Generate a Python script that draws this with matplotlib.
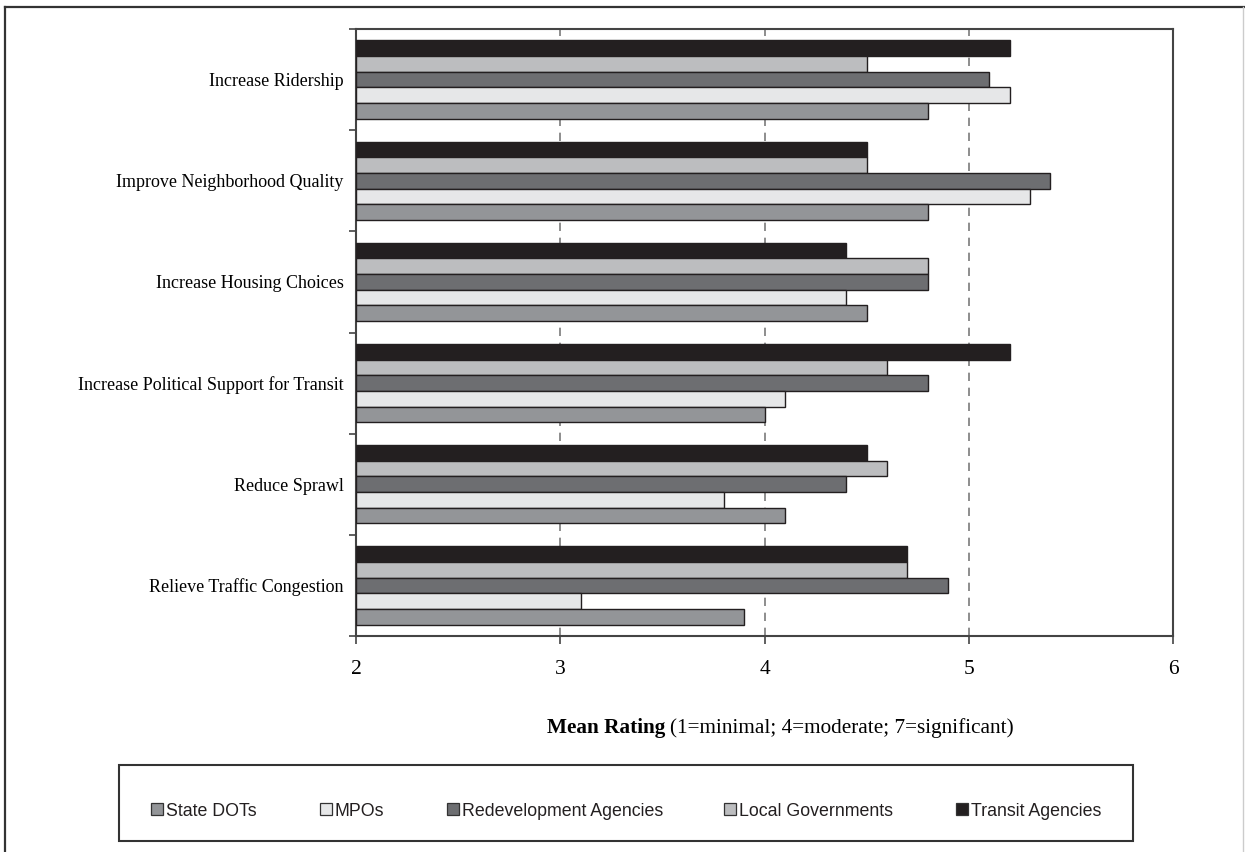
import matplotlib
matplotlib.use("Agg")
import matplotlib.pyplot as plt
from matplotlib.patches import Rectangle
from matplotlib.lines import Line2D
import numpy as np

categories = ["Increase Ridership", "Improve Neighborhood Quality", "Increase Housing Choices",
              "Increase Political Support for Transit", "Reduce Sprawl", "Relieve Traffic Congestion"]
# series in top-to-bottom order within each group
series_names = ["Transit Agencies", "Local Governments", "Redevelopment Agencies", "MPOs", "State DOTs"]
transit = [5.2, 4.5, 4.4, 5.2, 4.5, 4.7]
local_gov = [4.5, 4.5, 4.8, 4.6, 4.6, 4.7]
redevelopment = [5.1, 5.4, 4.8, 4.8, 4.4, 4.9]
mpos = [5.2, 5.3, 4.4, 4.1, 3.8, 3.1]
state_dots = [4.8, 4.8, 4.5, 4.0, 4.1, 3.9]
series_values = [transit, local_gov, redevelopment, mpos, state_dots]
colors = ["#231f20", "#bcbdbf", "#6d6e71", "#e6e7e8", "#939598"]
legend_order = ["State DOTs", "MPOs", "Redevelopment Agencies", "Local Governments", "Transit Agencies"]
xticks = [2, 3, 4, 5, 6]

W, H = 1245, 852
fig = plt.figure(figsize=(W / 100, H / 100), dpi=100)
ax = fig.add_axes([356 / W, 1 - 636 / H, (1173 - 356) / W, (636 - 29) / H])

serif = "Liberation Serif"
sans = "Liberation Sans"
edge = "#231f20"

n = len(categories)
y = np.arange(n)
bh = 0.155
for i, (vals, c) in enumerate(zip(series_values, colors)):
    off = (i - 2) * bh
    ax.barh(y + off, np.array(vals) - 2, left=2, height=bh, color=c,
            edgecolor=edge, linewidth=1.0, zorder=3)

ax.set_xlim(2, 6)
ax.set_ylim(n - 0.5, -0.5)

for xv in xticks[1:-1]:
    ax.axvline(xv, color="#7a7a7a", linestyle=(0, (5, 4)), linewidth=1.2, zorder=1)

ax.set_xticks(xticks)
ax.set_xticklabels([str(v) for v in xticks], fontfamily=serif, fontsize=15.5)
ax.tick_params(axis="x", direction="out", length=6, width=1.2, color="#444444", pad=11)

ax.set_yticks(np.arange(n + 1) - 0.5)
ax.set_yticklabels([])
ax.tick_params(axis="y", direction="out", length=5, width=1.2, color="#444444")
ax.set_yticks(y, minor=True)
ax.set_yticklabels(categories, minor=True, fontfamily=serif, fontsize=13)
ax.tick_params(axis="y", which="minor", length=0, pad=9)

for s in ax.spines.values():
    s.set_color("#444444")
    s.set_linewidth(1.5)

# x label: bold part + regular part
ylab = 1 - 728 / H
fig.text(665 / W, ylab, "Mean Rating", fontfamily=serif, fontweight="bold", fontsize=15.3,
         ha="right", va="center")
fig.text(670 / W, ylab, "(1=minimal; 4=moderate; 7=significant)", fontfamily=serif,
         fontsize=15.3, ha="left", va="center")

# legend box
fig.patches.append(Rectangle((119 / W, 1 - 841 / H), (1133 - 119) / W, (841 - 765) / H,
                             transform=fig.transFigure, fill=False, edgecolor="#333333",
                             linewidth=1.5))
leg_x = [151, 320, 447, 724, 956]
pc = 1 - 809 / H
base = 1 - 815.5 / H
sq = 12
for name, lx in zip(legend_order, leg_x):
    c = colors[series_names.index(name)]
    fig.patches.append(Rectangle((lx / W, pc - sq / 2 / H), sq / W, sq / H,
                                 transform=fig.transFigure, facecolor=c,
                                 edgecolor="#333333", linewidth=0.9))
    fig.text((lx + sq + 3) / W, base, name, fontfamily=sans, fontsize=12.8,
             ha="left", va="baseline", color="#231f20")

# outer frame
fig.lines.append(Line2D([5 / W, 5 / W], [0, 1 - 7 / H], transform=fig.transFigure,
                        color="#333333", linewidth=1.6))
fig.lines.append(Line2D([5 / W, 1], [1 - 7 / H, 1 - 7 / H], transform=fig.transFigure,
                        color="#333333", linewidth=1.6))
fig.lines.append(Line2D([1243 / W, 1243 / W], [0, 1 - 7 / H], transform=fig.transFigure,
                        color="#cccccc", linewidth=1.0))

fig.savefig("out.png", dpi=100)
